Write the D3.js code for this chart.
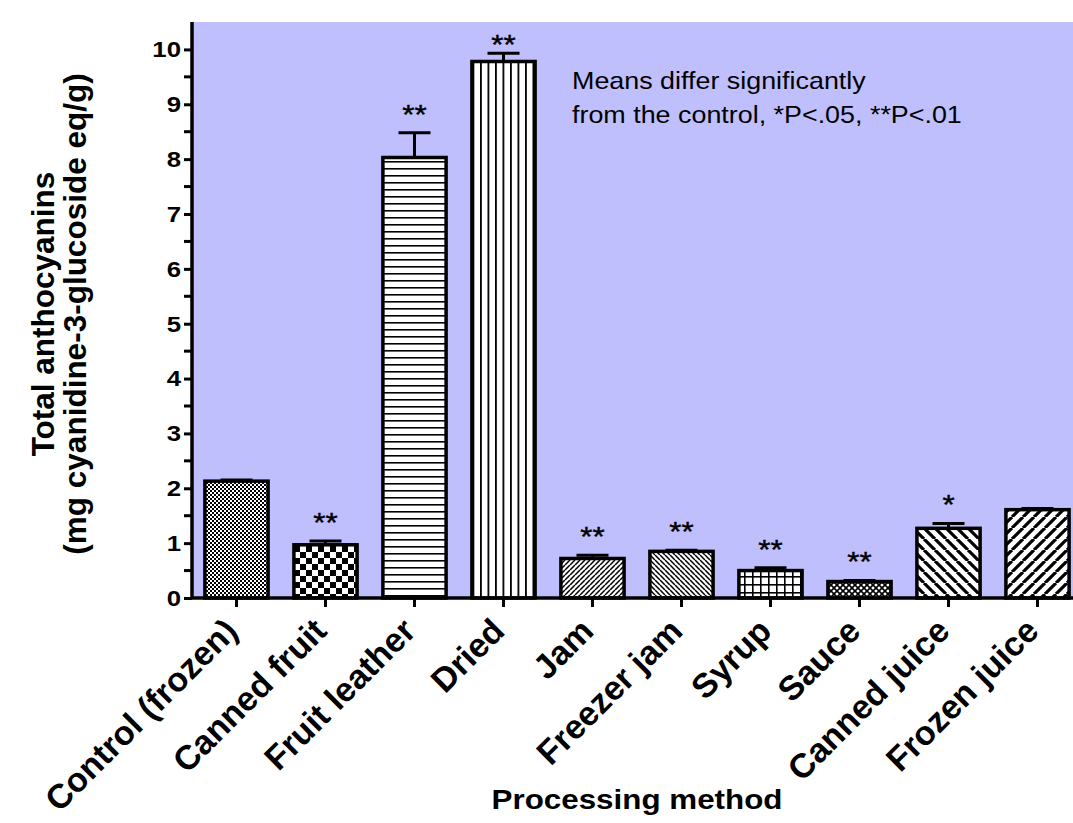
<!DOCTYPE html>
<html>
<head>
<meta charset="UTF-8">
<script src="https://cdnjs.cloudflare.com/ajax/libs/d3/7.8.5/d3.min.js"></script>
<style>
  body { margin: 0; background: #fff; }
  svg { display: block; font-family: "Liberation Sans", Arial, sans-serif; }
</style>
</head>
<body>
<div id="chart"></div>
<script>
// data
var categories = ["Control (frozen)", "Canned fruit", "Fruit leather", "Dried", "Jam",
                  "Freezer jam", "Syrup", "Sauce", "Canned juice", "Frozen juice"];
var means = [2.13, 0.97, 8.03, 9.78, 0.72, 0.85, 0.50, 0.30, 1.27, 1.61];
var errors = [0.02, 0.07, 0.45, 0.15, 0.06, 0.02, 0.05, 0.02, 0.09, 0.02];
var stars = ["", "**", "**", "**", "**", "**", "**", "**", "*", ""];
var fills = ["checkFine", "checkBig", "hlines", "vlines", "diagFine", "backFine",
             "grid", "cross", "backWide", "diagWide"];
var yTicks = [0, 1, 2, 3, 4, 5, 6, 7, 8, 9, 10];

var W = 1073, H = 823,
    left = 192, zeroY = 598, topY = 22,
    stretch = 1.12;   // the original figure is a bit wider than tall

var svg = d3.select("#chart").append("svg")
    .attr("width", W)
    .attr("height", H);

// patterns
var defs = svg.append("defs");
function pat(id, size) {
  var p = defs.append("pattern").attr("id", id)
      .attr("patternUnits", "userSpaceOnUse")
      .attr("width", size).attr("height", size);
  p.append("rect").attr("width", size).attr("height", size).attr("fill", "#fff");
  return p;
}
var p;
p = pat("checkFine", 4);
p.append("rect").attr("width", 2).attr("height", 2).attr("fill", "#000");
p.append("rect").attr("x", 2).attr("y", 2).attr("width", 2).attr("height", 2).attr("fill", "#000");
p = pat("checkBig", 12);
p.append("rect").attr("width", 6).attr("height", 6).attr("fill", "#000");
p.append("rect").attr("x", 6).attr("y", 6).attr("width", 6).attr("height", 6).attr("fill", "#000");
p = pat("hlines", 7);
p.append("rect").attr("y", 0).attr("width", 7).attr("height", 1.6).attr("fill", "#000");
p = pat("vlines", 7.5);
p.append("rect").attr("x", 0).attr("width", 1.8).attr("height", 7.5).attr("fill", "#000");
p = pat("grid", 8);
p.append("rect").attr("width", 8).attr("height", 1.6).attr("fill", "#000");
p.append("rect").attr("width", 1.6).attr("height", 8).attr("fill", "#000");
function diag(id, size, w, back) {
  var q = pat(id, size);
  var d = back ? "M0,0 L" + size + "," + size + " M-" + size + ",0 L0," + size + " M" + size + ",0 L" + (2 * size) + "," + size
               : "M0," + size + " L" + size + ",0 M-" + size + "," + size + " L0,0 M" + size + "," + size + " L" + (2 * size) + ",0";
  q.append("path").attr("d", d).attr("stroke", "#000").attr("stroke-width", w);
  return q;
}
diag("diagFine", 5, 1.5, false);
diag("backFine", 5, 1.5, true);
diag("backWide", 11, 3.2, true);
diag("diagWide", 11, 3.2, false);
p = pat("cross", 6);
p.append("path").attr("d", "M0,0 L6,6 M6,0 L0,6").attr("stroke", "#000").attr("stroke-width", 1.6);

var x = d3.scaleBand()
    .domain(categories)
    .range([left, left + 89 * categories.length])
    .paddingInner(0.29)
    .paddingOuter(0.145);

var y = d3.scaleLinear()
    .domain([0, 10.5])
    .range([zeroY, topY]);

// plot background
svg.append("rect")
    .attr("x", left).attr("y", topY)
    .attr("width", W - left).attr("height", zeroY - topY)
    .attr("fill", "#bfbffd");

var g = svg.append("g");

var bars = g.selectAll(".bar").data(categories).enter().append("g");
// error bars (upper only)
bars.append("line")
    .attr("x1", function(d) { return x(d) + x.bandwidth() / 2; })
    .attr("x2", function(d) { return x(d) + x.bandwidth() / 2; })
    .attr("y1", function(d, i) { return y(means[i]); })
    .attr("y2", function(d, i) { return y(means[i] + errors[i]); })
    .attr("stroke", "#000").attr("stroke-width", 3);
bars.append("line")
    .attr("x1", function(d) { return x(d) + x.bandwidth() / 2 - 16; })
    .attr("x2", function(d) { return x(d) + x.bandwidth() / 2 + 16; })
    .attr("y1", function(d, i) { return y(means[i] + errors[i]); })
    .attr("y2", function(d, i) { return y(means[i] + errors[i]); })
    .attr("stroke", "#000").attr("stroke-width", 3);

bars.append("rect")
    .attr("x", function(d) { return x(d); })
    .attr("y", function(d, i) { return y(means[i]); })
    .attr("width", x.bandwidth())
    .attr("height", function(d, i) { return zeroY - y(means[i]); })
    .attr("fill", function(d, i) { return "url(#" + fills[i] + ")"; })
    .attr("stroke", "#000").attr("stroke-width", 3.5);

// significance stars
bars.append("text")
    .attr("transform", function(d, i) {
      var by = Math.max(y(means[i] + errors[i]) - 9, 54);
      return "translate(" + (x(d) + x.bandwidth() / 2) + "," + by + ") scale(" + stretch + ",1)";
    })
    .attr("text-anchor", "middle")
    .attr("font-size", 28)
    .attr("stroke", "#000").attr("stroke-width", 0.4)
    .text(function(d, i) { return stars[i]; });

// y axis
var yAxis = svg.append("g")
    .attr("transform", "translate(" + left + ",0)")
    .call(d3.axisLeft(y).tickValues(yTicks).tickSize(8).tickPadding(3).tickFormat(d3.format("d")));
yAxis.select(".domain").attr("d", "M0," + topY + "V" + zeroY).attr("stroke-width", 3.5);
yAxis.selectAll(".tick line").attr("stroke-width", 3);
yAxis.selectAll(".tick text")
    .attr("x", null)
    .attr("transform", "translate(-11,0) scale(" + stretch + ",1)")
    .attr("font-size", 23).attr("font-weight", "bold").attr("fill", "#000");
yAxis.selectAll(".minor").data(d3.range(0.5, 10.5, 1)).enter().append("line")
    .attr("x1", -8).attr("x2", 0)
    .attr("y1", function(d) { return y(d); }).attr("y2", function(d) { return y(d); })
    .attr("stroke", "#000").attr("stroke-width", 3);

// x axis
var xAxis = svg.append("g")
    .attr("transform", "translate(0," + zeroY + ")")
    .call(d3.axisBottom(x).tickSize(9).tickFormat(""));
xAxis.select(".domain").attr("d", "M" + left + ",0H" + W).attr("stroke-width", 3.5);
xAxis.selectAll(".tick line").attr("stroke-width", 3);

svg.append("g").selectAll("text").data(categories).enter().append("text")
    .attr("transform", function(d) {
      return "translate(" + (x(d) + x.bandwidth() / 2 + 3) + "," + (zeroY + 35) + ") rotate(-45)";
    })
    .attr("text-anchor", "end")
    .attr("font-size", 34)
    .attr("font-weight", "bold")
    .text(function(d) { return d; });

// axis titles
svg.append("text")
    .attr("transform", "translate(637,809) scale(" + stretch + ",1)")
    .attr("text-anchor", "middle")
    .attr("font-size", 28).attr("font-weight", "bold")
    .text("Processing method");

var yt = svg.append("text")
    .attr("transform", "translate(54,314) rotate(-90)")
    .attr("text-anchor", "middle")
    .attr("font-size", 31.5).attr("font-weight", "bold");
yt.append("tspan").attr("x", 0).attr("y", 0).text("Total anthocyanins");
yt.append("tspan").attr("x", 0).attr("y", 32).text("(mg cyanidine-3-glucoside eq/g)");

// note
var note = svg.append("text")
    .attr("transform", "translate(572,0) scale(" + stretch + ",1)")
    .attr("font-size", 24);
note.append("tspan").attr("x", 0).attr("y", 89).text("Means differ significantly");
note.append("tspan").attr("x", 0).attr("y", 123).text("from the control, *P<.05, **P<.01");
</script>
</body>
</html>
